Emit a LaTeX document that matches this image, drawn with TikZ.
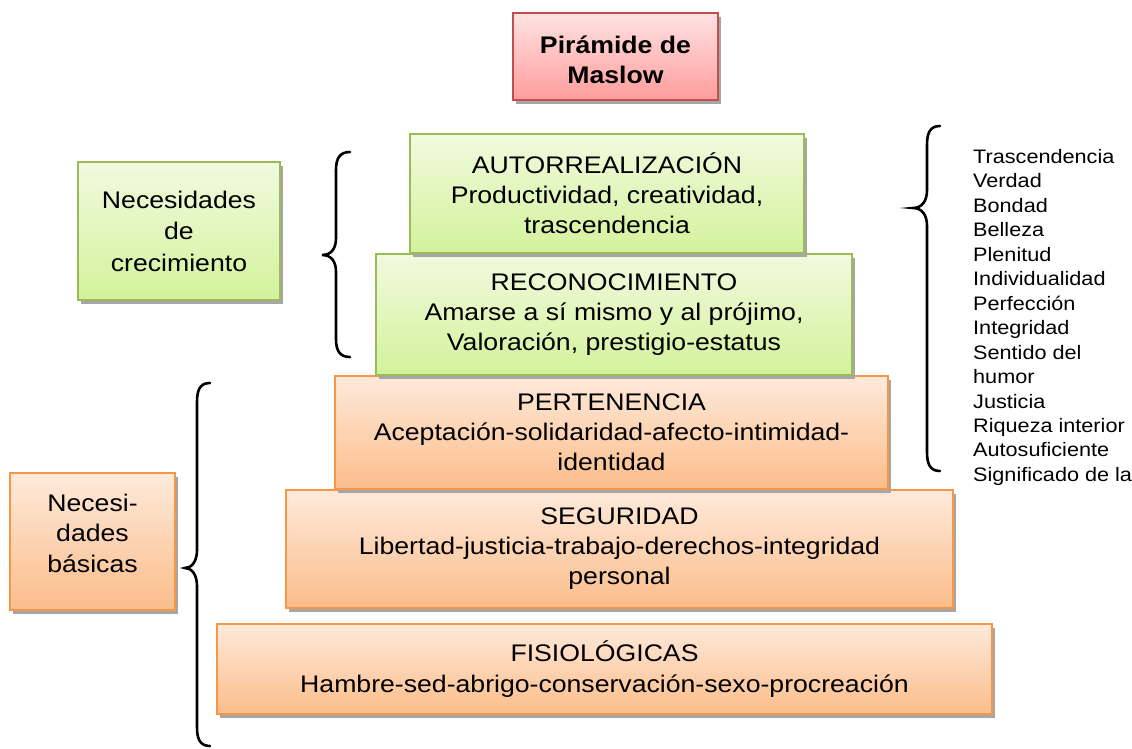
\documentclass[tikz,border=0pt]{standalone}
\usepackage{fontspec}
\setmainfont{Liberation Sans}[FakeStretch=1.11]
\usetikzlibrary{shadows}
\definecolor{grnB}{HTML}{9BBB59}
\definecolor{grnT}{HTML}{F1FADF}
\definecolor{grnL}{HTML}{D3F29B}
\definecolor{orgB}{HTML}{F79646}
\definecolor{orgT}{HTML}{FEEADB}
\definecolor{orgL}{HTML}{FBBD8A}
\definecolor{pnkB}{HTML}{C0504D}
\definecolor{pnkT}{HTML}{FFE2E2}
\definecolor{pnkL}{HTML}{FF9C9C}
\tikzset{
  box/.style={draw, line width=1.3pt, inner sep=0pt, align=center,
    drop shadow={shadow xshift=3pt, shadow yshift=-4pt, fill=black!35, opacity=1}},
  greenbox/.style={box, draw=grnB, top color=grnT, bottom color=grnL},
  orangebox/.style={box, draw=orgB, top color=orgT, bottom color=orgL},
  pinkbox/.style={box, draw=pnkB, top color=pnkT, bottom color=pnkL},
  big/.style={font=\fontsize{24}{30}\selectfont},
  listtxt/.style={inner sep=0pt, font=\fontsize{19.5}{22}\selectfont},
  bracepath/.style={draw=black, line width=2.6pt, line cap=round},
}
\begin{document}
\begin{tikzpicture}[x=1pt, y=-1pt]
\useasboundingbox (0,0) rectangle (1132,749);

% title
\node[pinkbox, minimum width=205pt, minimum height=87pt, font=\bfseries\fontsize{24}{30}\selectfont] (title) at (615.5,56.5) {\rule{0pt}{25pt}Pirámide de\\Maslow};

% pyramid, bottom to top
\node[orangebox, big, minimum width=775pt, minimum height=90pt, font=\fontsize{24}{31}\selectfont] (fisio) at (604.5,669) {FISIOLÓGICAS\\Hambre-sed-abrigo-conservación-sexo-procreación};
\node[orangebox, big, minimum width=667pt, minimum height=118pt] (seg) at (619.5,549) {SEGURIDAD\\Libertad-justicia-trabajo-derechos-integridad\\personal};
\node[orangebox, big, minimum width=553pt, minimum height=113pt] (pert) at (611.5,432.5) {PERTENENCIA\\Aceptación-solidaridad-afecto-intimidad-\\identidad};
\node[greenbox, big, minimum width=476pt, minimum height=121pt] (recon) at (614,314.5) {RECONOCIMIENTO\\Amarse a sí mismo y al prójimo,\\Valoración, prestigio-estatus};
\node[greenbox, big, minimum width=394pt, minimum height=119pt] (auto) at (607,193.5) {AUTORREALIZACIÓN\\Productividad, creatividad,\\trascendencia};

% side boxes
\node[greenbox, minimum width=202pt, minimum height=138pt, font=\fontsize{24}{31.5}\selectfont] (crec) at (179,231) {Necesidades\\de\\crecimiento};
\node[orangebox, minimum width=165pt, minimum height=137pt, font=\fontsize{24}{30.5}\selectfont] (basic) at (92.5,541.5) {Necesi-\\dades\\básicas\\[-14pt]\mbox{}};

% braces
\coordinate (gTop) at (350,152);
\coordinate (gTip) at (322,255);
\coordinate (gBot) at (350,357);
\draw[bracepath] (gTop) .. controls (340,152) and (336,158) .. (336,170)
  -- (336,238) .. controls (336,249) and (331,255) .. (gTip)
  .. controls (331,255) and (336,261) .. (336,272)
  -- (336,339) .. controls (336,351) and (340,357) .. (gBot);

\coordinate (rTop) at (940,126);
\coordinate (rTip) at (913,208);
\coordinate (rBot) at (940,471);
\draw[bracepath] (rTop) .. controls (930,126) and (927,133) .. (927,145)
  -- (927,190) .. controls (927,201) and (922,208) .. (rTip)
  .. controls (922,208) and (927,215) .. (927,226)
  -- (927,452) .. controls (927,464) and (930,471) .. (rBot);

\coordinate (bTop) at (210,383);
\coordinate (bTip) at (185,568);
\coordinate (bBot) at (210,746);
\draw[bracepath] (bTop) .. controls (200,383) and (197,390) .. (197,402)
  -- (197,550) .. controls (197,561) and (192,568) .. (bTip)
  .. controls (192,568) and (197,575) .. (197,586)
  -- (197,727) .. controls (197,739) and (200,746) .. (bBot);

% list
\foreach \t [count=\i from 0] in {Trascendencia, Verdad, Bondad, Belleza, Plenitud, Individualidad, Perfección, Integridad, Sentido del, humor, Justicia, Riqueza interior, Autosuficiente, Significado de la}
  \node[listtxt, anchor=base west] (L\i) at (973,{163.5+24.45*\i}) {\t};
\end{tikzpicture}
\end{document}
